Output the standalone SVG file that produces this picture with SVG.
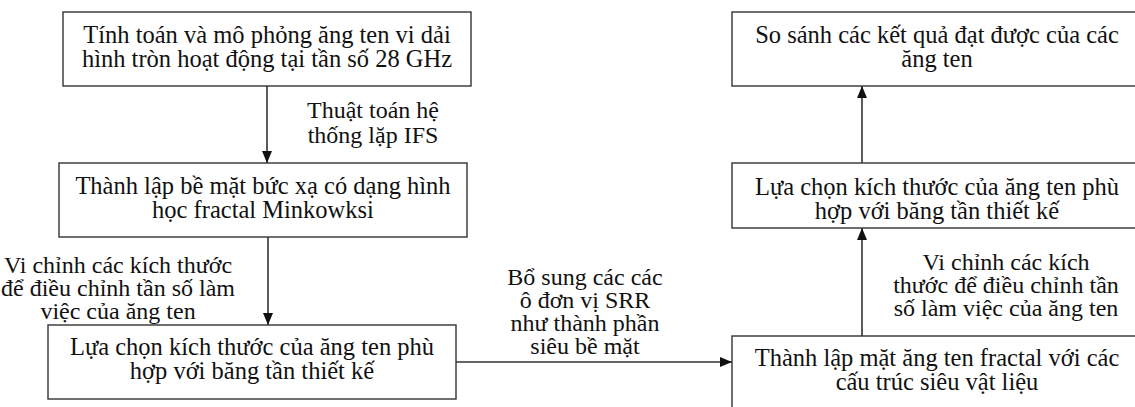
<svg xmlns="http://www.w3.org/2000/svg" width="1135" height="407" viewBox="0 0 1135 407">
<style>
.box{fill:#fff;stroke:#333;stroke-width:1.4}
.con{stroke:#333;stroke-width:1.6;fill:none;marker-end:url(#ah)}
</style>
<defs>
<marker id="ah" viewBox="0 0 12 10" refX="12" refY="5" markerWidth="12" markerHeight="10" markerUnits="userSpaceOnUse" orient="auto">
<path d="M0,0 L12,5 L0,10 Z" fill="#111"/>
</marker>
</defs>
<rect width="1135" height="407" fill="#fff"/>
<g font-family="Liberation Serif, Times New Roman, serif" font-size="24" fill="#111" text-anchor="middle">
<g id="connectors">
<line class="con" x1="267" y1="86" x2="267" y2="163"/>
<line class="con" x1="268" y1="237" x2="268" y2="325"/>
<line class="con" x1="456" y1="362" x2="732" y2="362"/>
<line class="con" x1="862" y1="336" x2="862" y2="228"/>
<line class="con" x1="862" y1="163" x2="862" y2="86"/>
<text x="373" y="118">Thuật toán hệ</text>
<text x="373" y="143">thống lặp IFS</text>
<text x="118" y="273">Vi chỉnh các kích thước</text>
<text x="118" y="296">để điều chỉnh tần số làm</text>
<text x="118" y="319">việc của ăng ten</text>
<text x="585" y="285">Bổ sung các các</text>
<text x="585" y="308">ô đơn vị SRR</text>
<text x="585" y="331">như thành phần</text>
<text x="585" y="354">siêu bề mặt</text>
<text x="1006" y="270">Vi chỉnh các kích</text>
<text x="1006" y="293">thước để điều chỉnh tần</text>
<text x="1006" y="316">số làm việc của ăng ten</text>
</g>
<g id="n1" font-size="24.5">
<rect class="box" x="63" y="12" width="408" height="74"/>
<text x="267" y="43">Tính toán và mô phỏng ăng ten vi dải</text>
<text x="267" y="67">hình tròn hoạt động tại tần số 28 GHz</text>
</g>
<g id="n2" font-size="24.5">
<rect class="box" x="59" y="163" width="408" height="74"/>
<text x="263" y="194">Thành lập bề mặt bức xạ có dạng hình</text>
<text x="263" y="218">học fractal Minkowksi</text>
</g>
<g id="n3" font-size="24.5">
<rect class="box" x="48" y="325" width="408" height="74"/>
<text x="252" y="355">Lựa chọn kích thước của ăng ten phù</text>
<text x="252" y="379">hợp với băng tần thiết kế</text>
</g>
<g id="n4" font-size="24.5">
<rect class="box" x="732" y="336" width="410" height="80"/>
<text x="937" y="366">Thành lập mặt ăng ten fractal với các</text>
<text x="937" y="390">cấu trúc siêu vật liệu</text>
</g>
<g id="n5" font-size="24.5">
<rect class="box" x="732" y="163" width="410" height="65"/>
<text x="937" y="195">Lựa chọn kích thước của ăng ten phù</text>
<text x="937" y="219">hợp với băng tần thiết kế</text>
</g>
<g id="n6" font-size="24.5">
<rect class="box" x="732" y="12" width="410" height="74"/>
<text x="937" y="43">So sánh các kết quả đạt được của các</text>
<text x="937" y="67">ăng ten</text>
</g>
</g>
</svg>
